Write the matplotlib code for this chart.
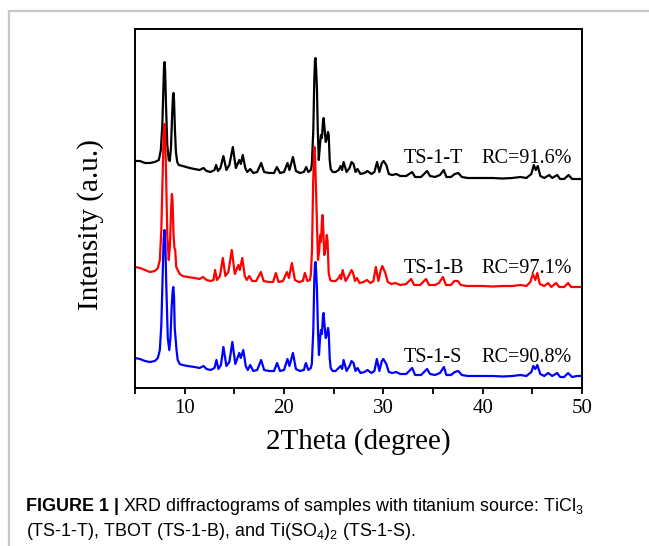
import matplotlib
matplotlib.use("Agg")
import matplotlib.pyplot as plt
from matplotlib.lines import Line2D
from matplotlib.ticker import MultipleLocator

# ---------------- data ----------------
two_theta_T = [5.0, 5.5, 6.0, 6.5, 7.0, 7.4, 7.6, 7.75, 7.85, 7.92, 7.97, 8.03, 8.12, 8.25, 8.4, 8.5,
               8.62, 8.74, 8.82, 8.87, 8.93, 9.02, 9.12, 9.25, 9.4, 9.8,
               10.5, 11.0, 11.5, 11.9, 12.2, 12.6, 13.0, 13.17, 13.35, 13.6, 13.9, 14.2, 14.5, 14.85, 15.15, 15.5,
               15.65, 15.85, 16.1, 16.3, 16.6, 16.9, 17.3, 17.7, 18.0, 18.5, 19.0, 19.28, 19.6, 20.0, 20.35, 20.55,
               20.9, 21.2, 21.6, 22.0, 22.24, 22.45, 22.7,
               22.8, 22.95, 23.05, 23.12, 23.17, 23.24, 23.32, 23.4, 23.5, 23.62, 23.72, 23.82, 23.92, 23.99,
               24.08, 24.2, 24.33, 24.43, 24.5, 24.6, 24.7,
               24.9, 25.2, 25.5, 25.7, 25.85, 26.0, 26.3, 26.6, 26.8, 27.0, 27.2, 27.4, 27.7,
               28.1, 28.4, 28.8, 29.1, 29.37, 29.6, 29.85, 30.03, 30.3, 30.55, 30.9, 31.3, 31.7, 32.3, 32.9, 33.2,
               33.8, 34.4, 34.7, 35.2, 35.7, 36.08, 36.35, 36.8, 37.2, 37.55, 37.9, 38.5, 39.2, 40.0, 41.0, 42.0,
               43.0, 43.8, 44.4, 44.9, 45.15, 45.35, 45.55, 45.8, 46.2, 46.7, 47.0, 47.5, 47.8, 48.2, 48.65, 49.0,
               49.5, 50.0]
intensity_T = [239, 239, 237, 237, 238, 240, 250, 275, 310, 333, 338, 330, 295, 255, 240, 239,
               252, 285, 303, 307, 300, 270, 248, 238, 235, 234,
               232, 231, 230, 232, 229, 228, 230, 235, 229, 232, 244, 230, 235, 253, 232, 240,
               236, 245, 232, 228, 231, 227, 228, 237, 228, 227, 227, 233, 227, 228, 237, 230,
               243, 229, 227, 228, 233, 228, 230,
               235, 270, 320, 340, 342, 330, 310, 270, 240, 255, 265, 262, 278, 282,
               272, 258, 262, 268, 265, 240, 231,
               228, 228, 230, 234, 230, 238, 228, 232, 238, 236, 228, 231, 226,
               227, 229, 226, 228, 238, 228, 237, 239, 235, 226, 225, 226, 224, 224, 228, 223,
               223, 229, 224, 223, 225, 230, 223, 223, 226, 227, 223, 222, 222, 222, 222, 221.5,
               222, 223, 222, 226, 235, 230, 234, 224, 222, 225, 222, 225, 221, 221, 225, 221,
               221, 221]

two_theta_B = [5.0, 5.5, 6.0, 6.5, 7.0,
               7.3, 7.5, 7.65, 7.78, 7.88, 7.96, 8.03, 8.12, 8.25, 8.4, 8.52, 8.63, 8.71, 8.78, 8.88, 8.97,
               9.05, 9.15,
               9.5, 9.8, 10.3, 11.0, 11.5, 11.85, 12.2, 12.6, 12.9, 13.06, 13.25, 13.55, 13.84, 14.1, 14.4, 14.74,
               15.05, 15.4, 15.55, 15.8, 16.05, 16.25, 16.5, 16.8, 17.2, 17.67, 17.95, 18.5, 18.9, 19.18, 19.45,
               19.9, 20.29, 20.5, 20.79, 21.1, 21.5, 21.9, 22.1, 22.35, 22.6,
               22.7, 22.82, 22.93, 23.02, 23.07, 23.13, 23.22, 23.32, 23.42, 23.55, 23.64, 23.72, 23.82, 23.88,
               23.95, 24.05, 24.2, 24.3, 24.38, 24.5, 24.65,
               24.8, 25.2, 25.5, 25.65, 25.75, 25.9, 26.2, 26.5, 26.8, 26.95,
               27.15, 27.35, 27.6, 28.0, 28.35, 28.7, 29.0, 29.25, 29.5, 29.75, 29.9, 30.2, 30.45, 30.8, 31.2,
               31.7, 32.3, 32.8, 33.1, 33.7, 34.3, 34.6, 35.2, 35.6, 36.0, 36.3, 36.8, 37.15, 37.5, 37.8, 38.4,
               39.0, 40.0, 41.0, 42.0, 43.0, 43.8, 44.4, 44.8, 45.05, 45.3, 45.5, 45.75, 46.2, 46.6, 46.9, 47.4,
               47.7, 48.2, 48.6, 48.9, 49.5, 50.0]
intensity_B = [133, 132, 130, 128, 129,
               132, 140, 170, 225, 265, 276, 268, 230, 165, 140, 155, 190, 206, 200, 165, 152,
               150, 133,
               126, 124, 123, 122, 121, 123, 120, 119, 120, 130, 120, 124, 142, 124, 128, 150,
               126, 135, 130, 142, 124, 120, 124, 119, 119, 128, 119, 118, 118, 127, 118,
               119, 128, 122, 137, 120, 118, 119, 127, 119, 120,
               125, 150, 215, 248, 253, 243, 210, 170, 140, 150, 165, 158, 180, 185,
               172, 145, 152, 165, 160, 127, 120,
               119, 119, 122, 125, 121, 130, 119, 124, 130, 127,
               119, 122, 117, 118, 120, 117, 119, 133, 119, 130, 134, 127, 118, 116, 117,
               115, 116, 121, 115, 115, 121, 115, 115, 117, 123, 115, 115, 119, 119, 115, 114,
               114, 114, 113.5, 114, 114, 115, 114, 118, 126, 120, 127, 116, 114, 117, 113, 117,
               113, 113, 117, 113, 113, 113]

two_theta_S = [5.0, 5.5, 6.0, 6.5, 7.0,
               7.3, 7.5, 7.65, 7.78, 7.88, 7.97, 8.05, 8.15, 8.3, 8.45, 8.57, 8.7, 8.8, 8.86, 8.93, 9.0, 9.08,
               9.18, 9.3,
               9.5, 9.8, 10.3, 11.0, 11.5, 11.9, 12.2, 12.6, 13.0, 13.2, 13.4, 13.65, 13.9, 14.2, 14.5, 14.8, 15.1,
               15.5, 15.65, 15.9, 16.15, 16.35, 16.6, 16.9, 17.3, 17.7, 18.0, 18.5, 19.0, 19.3, 19.6, 20.0, 20.35,
               20.55, 20.9, 21.2, 21.6, 22.0, 22.2, 22.45, 22.7,
               22.8, 22.95, 23.05, 23.12, 23.17, 23.24, 23.32, 23.42, 23.52, 23.62, 23.72, 23.82, 23.92, 23.99,
               24.08, 24.2, 24.33, 24.43, 24.5, 24.6, 24.7,
               24.9, 25.2, 25.5, 25.7, 25.85, 26.0, 26.3, 26.6, 26.8, 27.0, 27.2, 27.4,
               27.7, 28.1, 28.4, 28.8, 29.1, 29.35, 29.6, 29.85, 30.0, 30.3, 30.55, 30.9, 31.3, 31.7, 32.3, 32.9,
               33.2, 33.8, 34.4, 34.7, 35.2, 35.7, 36.1, 36.35, 36.8, 37.2, 37.55, 37.9, 38.5, 39.2, 40.0, 41.0,
               42.0, 43.0, 43.8, 44.4, 44.9, 45.1, 45.3, 45.5, 45.8, 46.2, 46.6, 47.0, 47.5, 47.8, 48.2, 48.6,
               49.0, 49.5, 50.0]
intensity_S = [42, 41, 39, 38, 39,
               42, 50, 75, 125, 160, 170, 158, 115, 62, 50, 62, 95, 110, 113, 103, 72, 62,
               50, 40,
               36, 35, 34, 33, 32, 34, 31, 30, 32, 40, 31, 35, 53, 34, 38, 58, 36,
               47, 42, 50, 34, 30, 35, 29, 30, 40, 30, 29, 29, 37, 29, 30, 41,
               34, 47, 31, 29, 30, 37, 30, 32,
               36, 70, 120, 136, 138, 128, 110, 70, 45, 60, 70, 66, 84, 87,
               75, 62, 66, 72, 68, 42, 32,
               29, 29, 32, 34, 31, 40, 29, 34, 39, 37, 29, 32,
               27, 28, 30, 27, 29, 41, 29, 39, 41, 36, 28, 27, 28, 26, 26, 32,
               25, 25, 31, 26, 25, 27, 33, 25, 25, 28, 29, 25, 24, 24, 24, 24,
               23.5, 24, 25, 24, 28, 34, 31, 35, 26, 24, 27, 24, 27, 23, 23, 27,
               23, 24, 24]

sample_names = ["TS-1-T", "TS-1-B", "TS-1-S"]
rc_labels = ["RC=91.6%", "RC=97.1%", "RC=90.8%"]
label_levels = [236.7, 126.7, 38.3]
line_colors = ["black", "red", "blue"]
x_ticks = [10, 20, 30, 40, 50]

# ---------------- figure ----------------
W, H = 649, 546
fig = plt.figure(figsize=(W / 100, H / 100), dpi=100)
plt.rcParams["mathtext.fontset"] = "custom"
plt.rcParams["mathtext.rm"] = "Liberation Sans"
plt.rcParams["mathtext.it"] = "Liberation Sans:italic"
plt.rcParams["mathtext.bf"] = "Liberation Sans:bold"

L, R, T, B = 135, 582, 29, 388
ax = fig.add_axes([L / W, 1 - B / H, (R - L) / W, (B - T) / H])

serif = "Liberation Serif"
series = [(two_theta_T, intensity_T), (two_theta_B, intensity_B), (two_theta_S, intensity_S)]
for (xx, yy), c in zip(series, line_colors):
    ax.plot(xx, yy, color=c, lw=1.6, solid_joinstyle="round")

ax.set_xlim(5, 50)
ax.set_ylim(12, 371)
ax.set_xticks(x_ticks)
ax.xaxis.set_minor_locator(MultipleLocator(5))
ax.set_yticks([])
ax.tick_params(axis="x", which="both", direction="out", length=4, width=1.3, pad=4,
               labelsize=15)
for lab in ax.get_xticklabels():
    lab.set_fontfamily(serif)
for sp in ax.spines.values():
    sp.set_linewidth(1.4)

for name, rc, lvl in zip(sample_names, rc_labels, label_levels):
    ax.text(32.05, lvl, name, fontsize=14.5, family=serif, va="baseline", ha="left")
    ax.text(39.85, lvl, rc, fontsize=14.5, family=serif, va="baseline", ha="left")

fig.text((L + R) / 2 / W, 1 - 442 / H, "2Theta (degree)", fontsize=21, family=serif,
         ha="center", va="center")
fig.text(91 / W, 1 - 225 / H, "Intensity (a.u.)", fontsize=21, family=serif,
         ha="center", va="center", rotation=90)

# caption
cap_size = 12.9
cx, cy1, cy2 = 26 / W, 1 - 511 / H, 1 - 536 / H
t1 = fig.text(cx, cy1, "FIGURE 1 |", fontsize=cap_size, family="Liberation Sans",
              weight="bold", va="baseline", ha="left")
fig.canvas.draw()
bb = t1.get_window_extent(renderer=fig.canvas.get_renderer())
fig.text((bb.x1 + 4) / W, cy1, r"XRD diffractograms of samples with titanium source: TiCl$_3$",
         fontsize=cap_size, family="Liberation Sans", va="baseline", ha="left")
fig.text(cx, cy2, r"(TS-1-T), TBOT (TS-1-B), and Ti(SO$_4$)$_2$ (TS-1-S).",
         fontsize=cap_size, family="Liberation Sans", va="baseline", ha="left")

# frame around the figure panel
border_col = "#c8c8c8"
fig.add_artist(Line2D([9 / W, 1.0], [1 - 10.5 / H, 1 - 10.5 / H], transform=fig.transFigure,
                      color=border_col, lw=1.6))
fig.add_artist(Line2D([9 / W, 9 / W], [1 - 10.5 / H, 0.0], transform=fig.transFigure,
                      color=border_col, lw=1.6))

fig.savefig("out.png", dpi=100)
